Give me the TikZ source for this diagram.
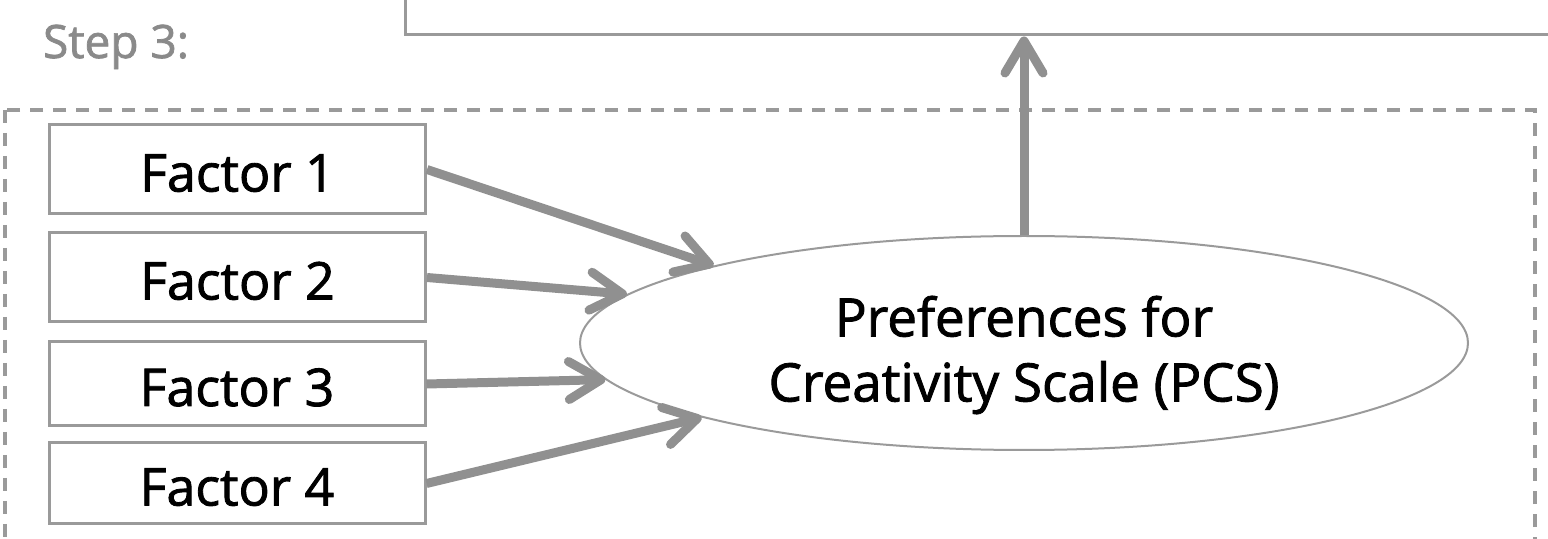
\documentclass[tikz,border=0pt]{standalone}
\usepackage{fontspec}
\setmainfont{Open Sans}
\newfontfamily\boxfont{Open Sans}[FakeBold=1.6]
\usetikzlibrary{arrows.meta,shapes.geometric}

\definecolor{linegray}{HTML}{9A9A9A}
\definecolor{arrowgray}{HTML}{909090}
\definecolor{stepgray}{HTML}{8A8A8A}

\tikzset{
  factorbox/.style={draw=linegray, line width=1.5pt, fill=white, inner sep=0pt,
    minimum width=188pt, text height=22pt, text depth=0pt,
    font=\boxfont\fontsize{26}{30}\selectfont},
  flow/.style={draw=arrowgray, line width=4.5pt,
    -{Straight Barb[length=16pt,width=19pt,round]}}
}

\begin{document}
\begin{tikzpicture}[x=0.5pt,y=-0.5pt]
\useasboundingbox (0,0) rectangle (1548,539);
\clip (0,0) rectangle (1548,539);

% box of the previous step, cut off at the top
\node[draw=linegray, line width=1.5pt, minimum width=582.5pt, minimum height=27.5pt,
  inner sep=0pt] (prevstep) at (987.5,7.5) {};
\node[anchor=base west, text=stepgray, font=\boxfont\fontsize{23}{27}\selectfont]
  (steplabel) at (36,58) {Step 3:};

% dashed frame round step 3
\draw[linegray, line width=2pt, dash pattern=on 6.5pt off 5pt]
  (5,110) rectangle (1535,600);

\node[factorbox, minimum height=44.5pt] (f1) at (237.5,169.5) {Factor 1};
\node[factorbox, minimum height=44.5pt] (f2) at (237.5,277.5) {Factor 2};
\node[factorbox, minimum height=42pt]   (f3) at (237,384)     {Factor 3};
\node[factorbox, minimum height=40.5pt] (f4) at (237,483.5)   {Factor 4};

% PCS ellipse, its two lines of text sit a bit low
\node[ellipse, draw=linegray, line width=1pt, inner sep=0pt,
  minimum width=444pt, minimum height=107pt] (pcs) at (1024,343) {};
\node[align=center, font=\boxfont\fontsize{26.5}{32.5}\selectfont]
  (pcstext) at (1024,355) {Preferences for\\Creativity Scale (PCS)};

\draw[flow] (f1.east) -- (pcs.166);
\draw[flow] (f2.east) -- (pcs.173.4);
\draw[flow] (f3.east) -- (pcs.185.5);
\draw[flow] (f4.east) -- (pcs.193.7);
\draw[flow] (pcs.north) -- (pcs.north |- prevstep.south);
\end{tikzpicture}
\end{document}
